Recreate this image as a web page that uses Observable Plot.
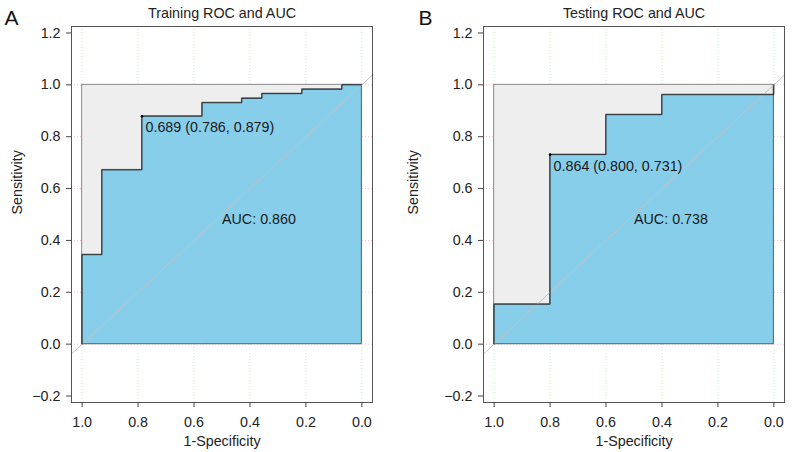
<!DOCTYPE html>
<html><head><meta charset="utf-8">
<script src="https://cdn.jsdelivr.net/npm/d3@7"></script>
<script src="https://cdn.jsdelivr.net/npm/@observablehq/plot@0.6"></script>
<style>
html,body{margin:0;padding:0;background:#fff;}
#wrap{display:flex;width:792px;height:452px;}
#wrap svg{display:block;}
</style></head><body><div id="wrap"></div>
<script>
// ROC step vertices (specificity, sensitivity)
const trainSpec = [1, 1, 0.929, 0.786, 0.571, 0.429, 0.357, 0.214, 0.071, 0];
const trainSens = [0, 0.345, 0.672, 0.879, 0.931, 0.948, 0.966, 0.983, 1.0, 1.0];
const testSpec = [1, 1, 0.8, 0.6, 0.4, 0, 0];
const testSens = [0, 0.154, 0.731, 0.885, 0.962, 0.962, 1.0];
const panelLetters = ["A", "B"];
const titles = ["Training ROC and AUC", "Testing ROC and AUC"];
const aucLabels = ["AUC: 0.860", "AUC: 0.738"];
const thresholdLabels = ["0.689 (0.786, 0.879)", "0.864 (0.800, 0.731)"];
const thresholdSpec = [0.786, 0.800];
const thresholdSens = [0.879, 0.731];
const perfectSpec = [1, 0];
const perfectSens = [0, 1];
const aucTextPos = [0.5, 0.5];
const xTicks = [1.0, 0.8, 0.6, 0.4, 0.2, 0.0];
const yTicks = [-0.2, 0.0, 0.2, 0.4, 0.6, 0.8, 1.0, 1.2];
const yGrid = [0.0, 0.2, 0.4, 0.6, 0.8, 1.0];
const xLabel = "1-Specificity";
const yLabel = "Sensitivity";

const xDomain = [1.038, -0.038];
const yDomain = [-0.225, 1.225];
const FONT = "'Liberation Sans', Arial, Helvetica, sans-serif";
const FS = 14.3;
const fmt = d3.format(".1f");

function panel(i, spec, sens, mLeft, mRight) {
  const curve = spec.map((s, k) => ({spec: s, sens: sens[k]}));
  const diag = xDomain.map(x => ({x, y: 1 - x}));
  const maxRect = [{x1: perfectSpec[0], x2: perfectSpec[1], y1: perfectSens[0], y2: perfectSens[1]}];
  const thr = [{x: thresholdSpec[i], y: thresholdSens[i], t: thresholdLabels[i]}];
  const aucT = [{x: aucTextPos[0], y: aucTextPos[1], t: aucLabels[i]}];
  return Plot.plot({
    width: 396, height: 452,
    marginLeft: mLeft, marginRight: mRight, marginTop: 26, marginBottom: 50,
    style: {fontFamily: FONT, fontSize: FS + "px", background: "#fff", color: "#222"},
    x: {domain: xDomain, inset: 0},
    y: {domain: yDomain, inset: 0},
    marks: [
      Plot.gridX(xTicks, {stroke: "#c4f0c4", strokeOpacity: 1, strokeDasharray: "1,2"}),
      Plot.gridY(yGrid, {stroke: "#f8c4c4", strokeOpacity: 1, strokeDasharray: "1,2"}),
      Plot.rect(maxRect, {x1: "x1", x2: "x2", y1: "y1", y2: "y2", fill: "#eeeeee", stroke: "#8a8a8a", strokeWidth: 1}),
      Plot.areaY(curve, {x: "spec", y1: 0, y2: "sens", curve: "step-after", fill: "#87ceeb", stroke: "#555", strokeWidth: 0.8}),
      Plot.line(diag, {x: "x", y: "y", stroke: "#c2c2c2", strokeWidth: 1, clip: true}),
      Plot.line(curve, {x: "spec", y: "sens", curve: "step-after", stroke: "#222", strokeWidth: 0.9}),
      Plot.dot(thr, {x: "x", y: "y", r: 1.3, fill: "#000"}),
      Plot.text(thr, {x: "x", y: "y", text: "t", textAnchor: "start", lineAnchor: "top", dx: 3.5, dy: 6, fontSize: FS, fill: "#1a1a1a"}),
      Plot.text(aucT, {x: "x", y: "y", text: "t", textAnchor: "start", lineAnchor: "top", dx: 0, dy: -0.5, fontSize: FS, fill: "#1a1a1a"}),
      Plot.frame({stroke: "#555"}),
      Plot.axisX({ticks: xTicks, tickFormat: fmt, tickSize: 5, tickPadding: 9, label: null, stroke: "#444", fill: "#222", fontSize: FS}),
      Plot.axisY({ticks: yTicks, tickFormat: fmt, tickSize: 5, tickPadding: 6, label: null, stroke: "#444", fill: "#222", fontSize: FS}),
      Plot.text([xLabel], {frameAnchor: "bottom", dy: 39, lineAnchor: "middle", fontSize: FS, fill: "#222"}),
      Plot.text([yLabel], {frameAnchor: "left", rotate: -90, dx: -(mLeft - 16.5), lineAnchor: "middle", fontSize: FS, fill: "#222"}),
      Plot.text([titles[i]], {frameAnchor: "top", dy: -13, lineAnchor: "middle", fontSize: FS, fill: "#222"}),
      Plot.text([panelLetters[i]], {frameAnchor: "top-left", dx: -(mLeft - (i === 0 ? 4 : 22)), dy: -8, textAnchor: "start", lineAnchor: "middle", fontSize: 21, fill: "#111"})
    ]
  });
}

const wrap = document.getElementById("wrap");
wrap.appendChild(panel(0, trainSpec, trainSens, 71, 24));
wrap.appendChild(panel(1, testSpec, testSens, 87, 8));
</script>
</body></html>
